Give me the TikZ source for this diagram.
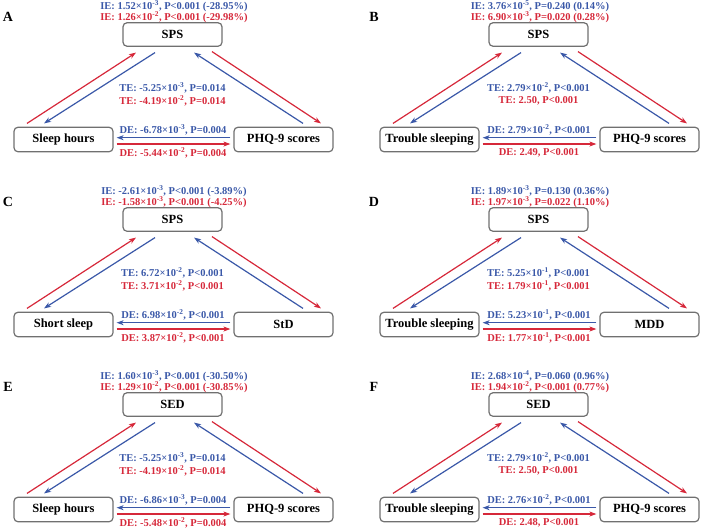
\documentclass[tikz,border=0pt]{standalone}
\usepackage{fontspec}
\setmainfont{Liberation Serif}
\usetikzlibrary{arrows.meta}
\definecolor{cblue}{RGB}{58,88,168}
\definecolor{cred}{RGB}{214,40,58}
\definecolor{cgray}{RGB}{112,112,112}
\newcommand\sci[2]{#1×10\textsuperscript{#2}}
\tikzset{
  box/.style={draw=cgray, line width=1.2pt, rounded corners=4pt, minimum width=99, minimum height=24.5, inner sep=0pt, font=\fontsize{12.5}{14}\selectfont\bfseries},
  lab/.style={inner sep=0pt, font=\fontsize{10.5}{12}\selectfont\bfseries},
  letter/.style={inner sep=0pt, font=\fontsize{14}{16}\selectfont\bfseries},
  arr/.style={line width=1.2pt, -{Stealth[length=7pt,width=5pt,inset=2pt]}},
  barr/.style={arr, draw=cblue},
  rarr/.style={arr, draw=cred},
}
% #1 xoff, #2 yoff, #3 letter, #4 prefix, #5 top text, #6 left text, #7 right text
\newcommand\mypanel[7]{%
\begin{scope}[shift={(#1,#2)}]
 \node[letter] (#4let) at (8,-17) {#3};
 \node[box, minimum height=23.5] (#4T) at (172.5,-34.5) {#5};
 \node[box] (#4L) at (63.5,-139.5) {#6};
 \node[box] (#4R) at (283.5,-139.5) {#7};
 \node[lab, text=cblue] (#4ieb) at (174,-6) {\ieb};
 \node[lab, text=cred] (#4ier) at (174,-17.5) {\ier};
 \node[lab, text=cblue] (#4teb) at (172.5,-88) {\teb};
 \node[lab, text=cred] (#4ter) at (172.5,-101) {\ter};
 \node[lab, text=cblue] (#4deb) at (173,-130) {\deb};
 \node[lab, text=cred] (#4der) at (173,-152.5) {\der};
 \draw[rarr] ([shift={(-36.5,3.25)}]#4L.north) -- ([shift={(-36.5,-5.75)}]#4T.south);
 \draw[barr] ([shift={(-17.5,-5.75)}]#4T.south) -- ([shift={(-19.5,3.25)}]#4L.north);
 \draw[barr] ([shift={(19.5,3.25)}]#4R.north) -- ([shift={(21.5,-5.75)}]#4T.south);
 \draw[rarr] ([shift={(39.5,-4.75)}]#4T.south) -- ([shift={(37.5,3.25)}]#4R.north);
 \draw[barr] ([shift={(-3,1.8)}]#4R.west) -- ([shift={(3,1.8)}]#4L.east);
 \draw[rarr] ([shift={(3,-4.5)}]#4L.east) -- ([shift={(-3,-4.5)}]#4R.west);
\end{scope}}
\begin{document}
\begin{tikzpicture}[x=1pt,y=1pt]
\useasboundingbox (0,0) rectangle (701,-528);
% A
\def\ieb{IE: \sci{1.52}{-3}, P<0.001 (-28.95\%)}
\def\ier{IE: \sci{1.26}{-2}, P<0.001 (-29.98\%)}
\def\teb{TE: \sci{-5.25}{-3}, P=0.014}
\def\ter{TE: \sci{-4.19}{-2}, P=0.014}
\def\deb{DE: \sci{-6.78}{-3}, P=0.004}
\def\der{DE: \sci{-5.44}{-2}, P=0.004}
\mypanel{0}{0}{A}{a}{SPS}{Sleep hours}{PHQ-9 scores}
% B
\def\ieb{IE: \sci{3.76}{-5}, P=0.240 (0.14\%)}
\def\ier{IE: \sci{6.90}{-3}, P=0.020 (0.28\%)}
\def\teb{TE: \sci{2.79}{-2}, P<0.001}
\def\ter{TE: 2.50, P<0.001}
\def\deb{DE: \sci{2.79}{-2}, P<0.001}
\def\der{DE: 2.49, P<0.001}
\mypanel{366}{0}{B}{b}{SPS}{Trouble sleeping}{PHQ-9 scores}
% C
\def\ieb{IE: \sci{-2.61}{-3}, P<0.001 (-3.89\%)}
\def\ier{IE: \sci{-1.58}{-3}, P<0.001 (-4.25\%)}
\def\teb{TE: \sci{6.72}{-2}, P<0.001}
\def\ter{TE: \sci{3.71}{-2}, P<0.001}
\def\deb{DE: \sci{6.98}{-2}, P<0.001}
\def\der{DE: \sci{3.87}{-2}, P<0.001}
\mypanel{0}{-185}{C}{c}{SPS}{Short sleep}{StD}
% D
\def\ieb{IE: \sci{1.89}{-3}, P=0.130 (0.36\%)}
\def\ier{IE: \sci{1.97}{-3}, P=0.022 (1.10\%)}
\def\teb{TE: \sci{5.25}{-1}, P<0.001}
\def\ter{TE: \sci{1.79}{-1}, P<0.001}
\def\deb{DE: \sci{5.23}{-1}, P<0.001}
\def\der{DE: \sci{1.77}{-1}, P<0.001}
\mypanel{366}{-185}{D}{d}{SPS}{Trouble sleeping}{MDD}
% E
\def\ieb{IE: \sci{1.60}{-3}, P<0.001 (-30.50\%)}
\def\ier{IE: \sci{1.29}{-2}, P<0.001 (-30.85\%)}
\def\teb{TE: \sci{-5.25}{-3}, P=0.014}
\def\ter{TE: \sci{-4.19}{-2}, P=0.014}
\def\deb{DE: \sci{-6.86}{-3}, P=0.004}
\def\der{DE: \sci{-5.48}{-2}, P=0.004}
\mypanel{0}{-370}{E}{e}{SED}{Sleep hours}{PHQ-9 scores}
% F
\def\ieb{IE: \sci{2.68}{-4}, P=0.060 (0.96\%)}
\def\ier{IE: \sci{1.94}{-2}, P<0.001 (0.77\%)}
\def\teb{TE: \sci{2.79}{-2}, P<0.001}
\def\ter{TE: 2.50, P<0.001}
\def\deb{DE: \sci{2.76}{-2}, P<0.001}
\def\der{DE: 2.48, P<0.001}
\mypanel{366}{-370}{F}{f}{SED}{Trouble sleeping}{PHQ-9 scores}
\end{tikzpicture}
\end{document}
